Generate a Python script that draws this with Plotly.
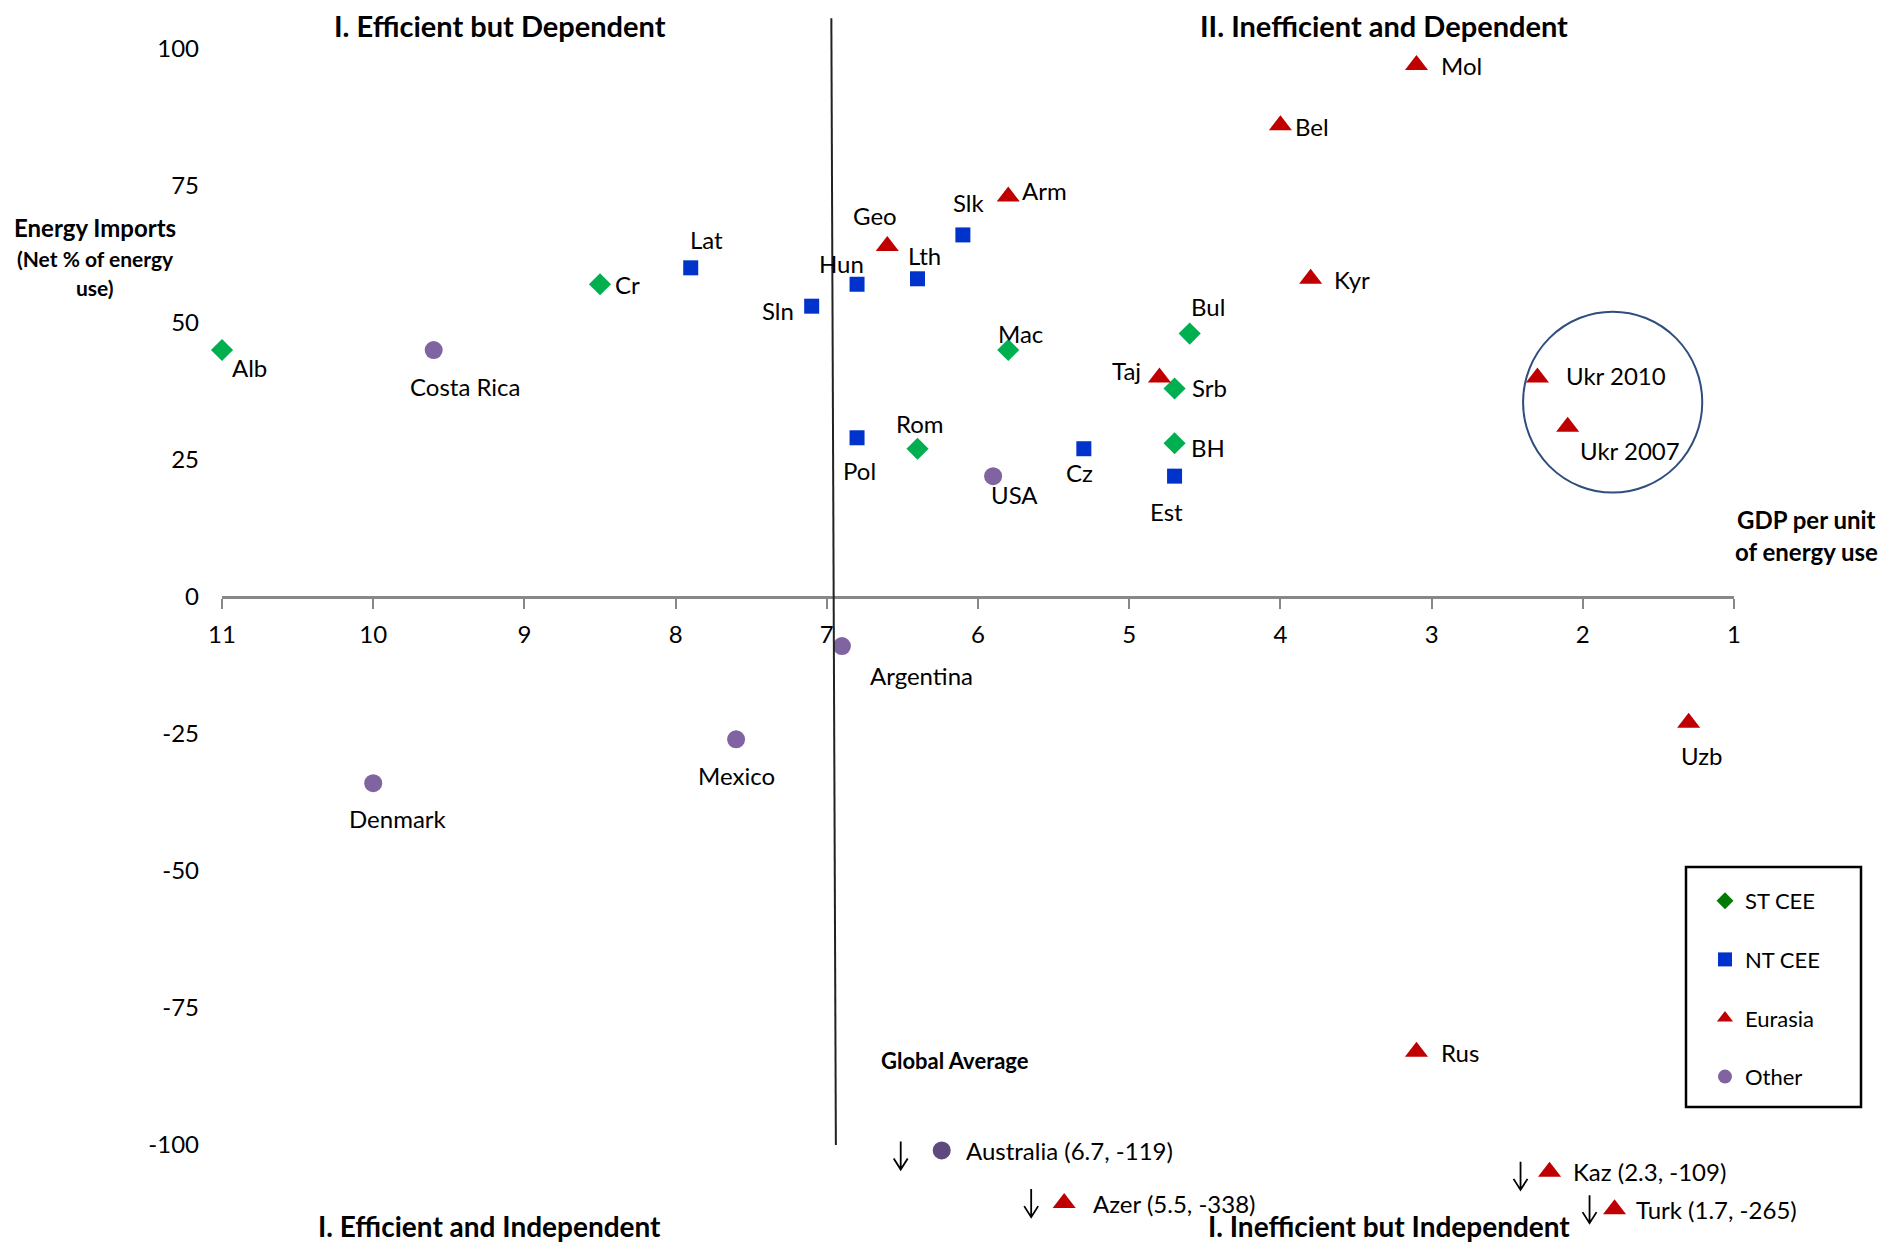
import plotly.graph_objects as go

# ---------------- data ----------------
st_names = ["Alb", "Cr", "Mac", "Bul", "Srb", "BH", "Rom"]
st_x = [11.0, 8.5, 5.8, 4.6, 4.7, 4.7, 6.4]
st_y = [45, 57, 45, 48, 38, 28, 27]

nt_names = ["Lat", "Sln", "Hun", "Lth", "Slk", "Cz", "Est", "Pol"]
nt_x = [7.9, 7.1, 6.8, 6.4, 6.1, 5.3, 4.7, 6.8]
nt_y = [60, 53, 57, 58, 66, 27, 22, 29]

eu_names = ["Geo", "Arm", "Mol", "Bel", "Kyr", "Taj", "Ukr 2010", "Ukr 2007", "Uzb", "Rus"]
eu_x = [6.6, 5.8, 3.1, 4.0, 3.8, 4.8, 2.3, 2.1, 1.3, 3.1]
eu_y = [64, 73, 97, 86, 58, 40, 40, 31, -23, -83]

ot_names = ["Costa Rica", "USA", "Argentina", "Mexico", "Denmark"]
ot_x = [9.6, 5.9, 6.9, 7.6, 10.0]
ot_y = [45, 22, -9, -26, -34]

# off-scale countries: true values, and where they are drawn below the chart
off_names = ["Australia", "Azer", "Kaz", "Turk"]
off_group = ["Other", "Eurasia", "Eurasia", "Eurasia"]
off_true_x = [6.7, 5.5, 2.3, 1.7]
off_true_y = [-119, -338, -109, -265]
off_plot_x = [6.24, 5.43, 2.22, 1.79]
off_plot_y = [-101, -110.6, -104.9, -111.7]

x_ticks = [11, 10, 9, 8, 7, 6, 5, 4, 3, 2, 1]
y_ticks = [-100, -75, -50, -25, 0, 25, 50, 75, 100]

GLOBAL_AVG_TOP = (6.97, 105.5)
GLOBAL_AVG_BOTTOM = (6.94, -100)

# ---------------- style ----------------
FONT = "Lato, 'Open Sans', sans-serif"
W, H = 1886, 1237
GREEN, BLUE, RED, PURPLE, DPURPLE = "#00B050", "#0033CC", "#C00000", "#8064A2", "#5F4A80"

X_RANGE = [11, 1]
Y_RANGE = [-118.24, 107.39]
X_DOMAIN = [214 / W, 1726 / W]

label_offsets = {
    "Alb": (27, 17), "Costa Rica": (32, 36), "Cr": (27, 0), "Lat": (16, -28),
    "Sln": (-34, 4), "Hun": (-16, -21), "Geo": (-12, -30), "Lth": (7, -23),
    "Slk": (6, -32), "Arm": (36, -6), "Mac": (12, -17), "Bul": (18, -27),
    "Taj": (-33, -7), "Srb": (35, -1), "BH": (33, 4), "Est": (-8, 35),
    "Cz": (-4, 24), "USA": (21, 18), "Rom": (2, -25), "Pol": (2, 33),
    "Mol": (45, 1), "Bel": (32, 1), "Kyr": (41, 1), "Ukr 2010": (79, -2),
    "Ukr 2007": (62, 24), "Uzb": (13, 33), "Rus": (44, 1), "Argentina": (80, 29),
    "Mexico": (0, 36), "Denmark": (25, 35),
}
off_label_dx = [22, 27, 21, 19]
off_arrow_off = [(-41, 5), (-33, 0), (-29, 4), (-25, 0)]   # screen px, down positive

fig = go.Figure()

groups = [
    ("ST CEE", st_names, st_x, st_y, "diamond", GREEN, 17, "#007A00"),
    ("NT CEE", nt_names, nt_x, nt_y, "square", BLUE, 15, BLUE),
    ("Eurasia", eu_names, eu_x, eu_y, "triangle-up", RED, 20, RED),
    ("Other", ot_names, ot_x, ot_y, "circle", PURPLE, 18, PURPLE),
]

for name, names, xs, ys, sym, col, size, legcol in groups:
    fig.add_trace(go.Scatter(
        x=xs, y=ys, mode="markers", name=name, text=names, showlegend=False,
        marker=dict(symbol=sym, color=col, size=size, line=dict(width=0)),
        cliponaxis=False,
    ))

# off-scale markers
off_sym = {"Other": ("circle", DPURPLE, 18), "Eurasia": ("triangle-up", RED, 20)}
for i, nm in enumerate(off_names):
    sym, col, size = off_sym[off_group[i]]
    fig.add_trace(go.Scatter(
        x=[off_plot_x[i]], y=[off_plot_y[i]], mode="markers", showlegend=False,
        marker=dict(symbol=sym, color=col, size=size), cliponaxis=False,
    ))

# legend entries
for gi, (name, names, xs, ys, sym, col, size, legcol) in enumerate(groups):
    fig.add_trace(go.Scatter(
        x=[None], y=[None], mode="markers", name=name, legendgroup=f"g{gi}",
        marker=dict(symbol=sym, color=legcol, size=13 if sym == "diamond" else 14),
    ))

annotations = []
shapes = []
# point labels
for name, names, xs, ys, sym, col, size, legcol in groups:
    for nm, xv, yv in zip(names, xs, ys):
        dx, dy = label_offsets[nm]
        annotations.append(dict(
            x=xv, y=yv, xref="x", yref="y", text=nm, showarrow=False,
            xshift=dx, yshift=-dy, font=dict(family=FONT, size=24, color="#000"),
            xanchor="center", yanchor="middle",
        ))

for i, nm in enumerate(off_names):
    annotations.append(dict(
        x=off_plot_x[i], y=off_plot_y[i], xref="x", yref="y",
        text=f"{nm} ({off_true_x[i]}, {off_true_y[i]})", showarrow=False,
        xshift=off_label_dx[i], xanchor="left", yanchor="middle",
        font=dict(family=FONT, size=24, color="#000"),
    ))
    # thin down-arrow drawn next to the marker (pixel-sized shape anchored at the point)
    ax, ay = off_arrow_off[i][0], -off_arrow_off[i][1]
    path = (f"M {ax},{ay + 14} L {ax},{ay - 14} "
            f"M {ax - 7},{ay - 3} L {ax},{ay - 14} L {ax + 7},{ay - 3}")
    shapes.append(dict(type="path", xref="x", yref="y", xsizemode="pixel",
                       ysizemode="pixel", xanchor=off_plot_x[i], yanchor=off_plot_y[i],
                       path=path, line=dict(color="#000", width=1.8)))

def pap(px, py):
    return px / W, 1 - py / H

def add_text(text, px, py, size, bold=True):
    x, y = pap(px, py)
    annotations.append(dict(
        x=x, y=y, xref="paper", yref="paper", text=f"<b>{text}</b>" if bold else text,
        showarrow=False, xanchor="center", yanchor="middle",
        font=dict(family=FONT, size=size, color="#000"),
    ))

add_text("I. Efficient but Dependent", 492, 18, 29)
add_text("II. Inefficient and Dependent", 1376, 17, 29)
add_text("I. Efficient and Independent", 481, 1218, 28)
add_text("I. Inefficient but Independent", 1381, 1218, 28)
add_text("Energy Imports", 87, 220, 24)
add_text("(Net % of energy", 87, 250, 21)
add_text("use)", 87, 279, 21)
add_text("GDP per unit", 1798, 511, 24)
add_text("of energy use", 1798, 543, 24)

annotations.append(dict(
    x=6.15, y=-84.5, xref="x", yref="y", text="<b>Global Average</b>", showarrow=False,
    font=dict(family=FONT, size=22, color="#000"), xanchor="center", yanchor="middle",
))

shapes += [
    dict(type="line", xref="x", yref="y",
         x0=GLOBAL_AVG_TOP[0], y0=GLOBAL_AVG_TOP[1],
         x1=GLOBAL_AVG_BOTTOM[0], y1=GLOBAL_AVG_BOTTOM[1],
         line=dict(color="#222", width=2)),
    dict(type="circle", xref="x", yref="y", x0=2.395, x1=1.21, y0=19, y1=52,
         line=dict(color="#2F4E7E", width=2)),
]
lx0, ly1 = pap(1678, 859)
lx1, ly0 = pap(1853, 1099)
shapes.append(dict(type="rect", xref="paper", yref="paper", x0=lx0, x1=lx1, y0=ly0, y1=ly1,
                   line=dict(color="#000", width=2.5)))

x_pos = (0 - Y_RANGE[0]) / (Y_RANGE[1] - Y_RANGE[0])

fig.update_layout(
    template="none",
    width=W, height=H,
    margin=dict(l=0, r=0, t=0, b=0),
    paper_bgcolor="white", plot_bgcolor="rgba(0,0,0,0)",
    font=dict(family=FONT, size=24, color="#000"),
    xaxis=dict(range=X_RANGE, domain=X_DOMAIN, anchor="free", position=x_pos,
               tickvals=x_ticks, ticktext=[str(v) for v in x_ticks],
               showgrid=False, zeroline=False, showline=True,
               linecolor="#888888", linewidth=2.5, ticks="outside", ticklen=10,
               tickwidth=2, tickcolor="#888888", ticklabelstandoff=6,
               tickfont=dict(family=FONT, size=24), automargin=False),
    yaxis=dict(range=Y_RANGE, domain=[0, 1], tickvals=y_ticks,
               ticktext=[str(v) for v in y_ticks], showgrid=False,
               zeroline=False, showline=False, ticks="", ticklabelstandoff=22,
               tickfont=dict(family=FONT, size=24), automargin=False),
    showlegend=True,
    legend=dict(x=pap(1697, 0)[0], y=pap(0, 872)[1], xanchor="left", yanchor="top",
                bgcolor="rgba(0,0,0,0)", borderwidth=0, tracegroupgap=27,
                font=dict(family=FONT, size=22, color="#000")),
    annotations=annotations,
    shapes=shapes,
)

fig.write_html("out.html")
